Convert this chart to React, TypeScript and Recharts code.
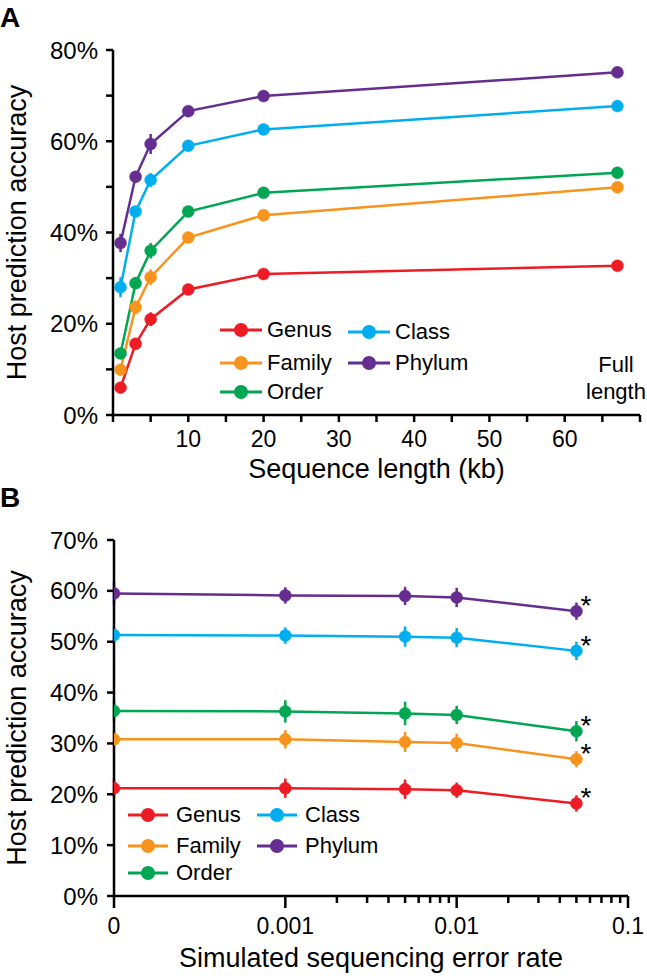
import React from "react";
import { LineChart, Line, XAxis, YAxis, ErrorBar, Legend, LabelList } from "recharts";

const FONT = '"Liberation Sans", Arial, Helvetica, sans-serif';

const ranks = ["Genus", "Family", "Order", "Class", "Phylum"];
const rankColors = ["#ED1C24", "#F7941D", "#00A651", "#00AEEF", "#662D91"];

// Panel A: accuracy (%) vs sequence length (kb); 67 = full length
const lengths = [1, 3, 5, 10, 20, 67];
const genusA = [6.0, 15.6, 21.0, 27.5, 30.9, 32.7];
const familyA = [9.9, 23.6, 30.2, 38.9, 43.8, 49.9];
const orderA = [13.5, 28.9, 36.0, 44.6, 48.7, 53.1];
const classA = [28.0, 44.6, 51.5, 59.0, 62.6, 67.7];
const phylumA = [37.7, 52.2, 59.4, 66.6, 69.9, 75.1];
const genusAErr = [1.0, 1.2, 1.5, 0.6, 0.5, 0.4];
const familyAErr = [1.0, 1.5, 1.7, 0.7, 0.5, 0.4];
const orderAErr = [1.0, 1.3, 1.7, 0.7, 0.5, 0.4];
const classAErr = [2.2, 1.2, 1.5, 0.7, 0.5, 0.4];
const phylumAErr = [2.0, 1.2, 2.2, 0.7, 0.5, 0.4];

const lengthTicks = [0, 5, 10, 15, 20, 25, 30, 35, 40, 45, 50, 55, 60, 65, 70];
const lengthTickLabels = [10, 20, 30, 40, 50, 60];
const accTicksA = [0, 10, 20, 30, 40, 50, 60, 70, 80];
const accTickLabelsA = [0, 20, 40, 60, 80];

// Panel B: accuracy (%) vs simulated error rate
const errorRates = [0, 0.001, 0.005, 0.01, 0.05];
const genusB = [21.2, 21.2, 21.0, 20.8, 18.2];
const familyB = [30.8, 30.8, 30.3, 30.1, 26.9];
const orderB = [36.4, 36.3, 35.9, 35.6, 32.4];
const classB = [51.3, 51.2, 51.0, 50.8, 48.2];
const phylumB = [59.5, 59.1, 59.0, 58.7, 56.0];
const genusBErr = [1.9, 1.9, 1.9, 1.5, 1.6];
const familyBErr = [1.8, 1.8, 2.0, 1.8, 1.6];
const orderBErr = [2.1, 2.2, 2.3, 1.8, 2.0];
const classBErr = [1.7, 1.6, 2.0, 1.9, 1.8];
const phylumBErr = [2.3, 1.6, 1.8, 1.9, 1.7];

const LOG_FLOOR = 0.0001; // where "0" sits on the log axis
const rateTicks = [
  0.0001, 0.001, 0.002, 0.003, 0.004, 0.005, 0.006, 0.007, 0.008, 0.009,
  0.01, 0.02, 0.03, 0.04, 0.05, 0.06, 0.07, 0.08, 0.09, 0.1,
];
const rateMajor = [0.0001, 0.001, 0.01, 0.1];
const rateTickLabels = ["0", "0.001", "0.01", "0.1"];
const accTicksB = [0, 10, 20, 30, 40, 50, 60, 70];

const valuesA = [genusA, familyA, orderA, classA, phylumA];
const errsA = [genusAErr, familyAErr, orderAErr, classAErr, phylumAErr];
const valuesB = [genusB, familyB, orderB, classB, phylumB];
const errsB = [genusBErr, familyBErr, orderBErr, classBErr, phylumBErr];

const dataA = lengths.map((x, i) => {
  const row: any = { x };
  ranks.forEach((r, k) => {
    row[r] = valuesA[k][i];
    row[r + "_err"] = errsA[k][i];
  });
  return row;
});

const dataB = errorRates.map((rate, i) => {
  const row: any = { x: rate === 0 ? LOG_FLOOR : rate };
  ranks.forEach((r, k) => {
    row[r] = valuesB[k][i];
    row[r + "_err"] = errsB[k][i];
  });
  return row;
});

const axisStyle = { stroke: "#000", strokeWidth: 2.5 };

function RateTick(props: any) {
  const { x, y, payload } = props;
  const i = rateMajor.indexOf(payload.value);
  const major = i >= 0;
  return (
    <g>
      <line x1={x} x2={x} y1={y} y2={y + (major ? 12 : 7)} stroke="#000" strokeWidth={2.5} />
      {major && (
        <text x={x} y={y + 38} textAnchor="middle" fontSize={23} fontFamily={FONT} fill="#000">
          {rateTickLabels[i]}
        </text>
      )}
    </g>
  );
}

function Star(props: any) {
  const { index } = props;
  const x = props.x ?? props.viewBox?.x;
  const y = props.y ?? props.viewBox?.y;
  if (index !== errorRates.length - 1) return null;
  return (
    <text x={x + 4} y={y + 4} fontSize={28} fontFamily={FONT} fill="#000">
      *
    </text>
  );
}

type LegendPos = { left: number; top: number };

function RankLegend({ pos, lineLen, gap }: { pos: LegendPos[]; lineLen: number; gap: number }) {
  return (
    <div style={{ position: "relative", width: 320, height: 110 }}>
      {ranks.map((r, k) => (
        <div
          key={r}
          style={{
            position: "absolute",
            left: pos[k].left,
            top: pos[k].top,
            height: 30,
            display: "flex",
            alignItems: "center",
            fontFamily: FONT,
            fontSize: 22,
            color: "#000",
            whiteSpace: "nowrap",
          }}
        >
          <svg width={lineLen} height={16} style={{ display: "block" }}>
            <line x1={0} x2={lineLen} y1={8} y2={8} stroke={rankColors[k]} strokeWidth={3} />
            <circle cx={lineLen / 2} cy={8} r={7} fill={rankColors[k]} />
          </svg>
          <span style={{ marginLeft: gap }}>{r}</span>
        </div>
      ))}
    </div>
  );
}

const legendPosA: LegendPos[] = [
  { left: 0, top: 15 },
  { left: 0, top: 48 },
  { left: 0, top: 77 },
  { left: 128, top: 17 },
  { left: 128, top: 48 },
];

const legendPosB: LegendPos[] = [
  { left: 0, top: 15 },
  { left: 0, top: 46 },
  { left: 0, top: 73 },
  { left: 129, top: 15 },
  { left: 129, top: 46 },
];

const labelStyle = { fontSize: 27, fontFamily: FONT, fill: "#000" };

export default function App() {
  return (
    <div
      style={{
        position: "absolute",
        left: 0,
        top: 0,
        width: 647,
        height: 978,
        background: "#fff",
        fontFamily: FONT,
      }}
    >
      <div style={{ position: "absolute", left: 0, top: 0 }}>
        <LineChart width={647} height={490} data={dataA} margin={{ top: 50, right: 7, bottom: 35, left: 0 }}>
          <XAxis
            dataKey="x"
            type="number"
            domain={[0, 70]}
            ticks={lengthTicks}
            interval={0}
            tickFormatter={(v: number) => (lengthTickLabels.includes(v) ? String(v) : "")}
            height={40}
            tickSize={7}
            tickMargin={9}
            axisLine={axisStyle}
            tickLine={axisStyle}
            tick={{ fill: "#000", fontSize: 23, fontFamily: FONT }}
            label={{ value: "Sequence length (kb)", position: "bottom", offset: 4, style: labelStyle }}
          />
          <YAxis
            type="number"
            domain={[0, 80]}
            ticks={accTicksA}
            interval={0}
            tickFormatter={(v: number) => (accTickLabelsA.includes(v) ? `${v}%` : "")}
            width={113}
            tickSize={7}
            tickMargin={8}
            axisLine={axisStyle}
            tickLine={axisStyle}
            tick={{ fill: "#000", fontSize: 24, fontFamily: FONT }}
            label={{
              value: "Host prediction accuracy",
              angle: -90,
              position: "insideLeft",
              offset: 16,
              style: { ...labelStyle, textAnchor: "middle" },
            }}
          />
          {ranks.map((r, k) => (
            <Line
              key={r}
              type="linear"
              dataKey={r}
              stroke={rankColors[k]}
              strokeWidth={2.5}
              dot={{ r: 6, fill: rankColors[k], stroke: rankColors[k], strokeWidth: 0.5 }}
              activeDot={false}
              isAnimationActive={false}
            >
              <ErrorBar dataKey={r + "_err"} width={0} stroke={rankColors[k]} strokeWidth={2.5} direction="y" />
            </Line>
          ))}
          <Legend
            layout="vertical"
            align="center"
            verticalAlign="middle"
            wrapperStyle={{ left: 220, top: 300, width: 320, height: 110 }}
            content={() => <RankLegend pos={legendPosA} lineLen={42} gap={5} />}
          />
        </LineChart>
      </div>

      <div style={{ position: "absolute", left: 0, top: 480 }}>
        <LineChart width={647} height={498} data={dataB} margin={{ top: 60, right: 19, bottom: 32, left: 0 }}>
          <XAxis
            dataKey="x"
            type="number"
            scale="log"
            domain={[LOG_FLOOR, 0.1]}
            allowDataOverflow
            ticks={rateTicks}
            interval={0}
            height={50}
            tickSize={0}
            tickMargin={0}
            axisLine={axisStyle}
            tickLine={false}
            tick={<RateTick />}
            label={{ value: "Simulated sequencing error rate", position: "bottom", offset: 2, style: labelStyle }}
          />
          <YAxis
            type="number"
            domain={[0, 70]}
            ticks={accTicksB}
            interval={0}
            tickFormatter={(v: number) => `${v}%`}
            width={114}
            tickSize={7}
            tickMargin={9}
            axisLine={axisStyle}
            tickLine={axisStyle}
            tick={{ fill: "#000", fontSize: 24, fontFamily: FONT }}
            label={{
              value: "Host prediction accuracy",
              angle: -90,
              position: "insideLeft",
              offset: 16,
              style: { ...labelStyle, textAnchor: "middle" },
            }}
          />
          {ranks.map((r, k) => (
            <Line
              key={r}
              type="linear"
              dataKey={r}
              stroke={rankColors[k]}
              strokeWidth={2.5}
              dot={{ r: 6, fill: rankColors[k], stroke: rankColors[k], strokeWidth: 0.5 }}
              activeDot={false}
              isAnimationActive={false}
            >
              <ErrorBar dataKey={r + "_err"} width={0} stroke={rankColors[k]} strokeWidth={2.5} direction="y" />
              <LabelList dataKey={r} content={<Star />} />
            </Line>
          ))}
          <Legend
            layout="vertical"
            align="center"
            verticalAlign="middle"
            wrapperStyle={{ left: 128, top: 305, width: 320, height: 110 }}
            content={() => <RankLegend pos={legendPosB} lineLen={40} gap={8} />}
          />
        </LineChart>
      </div>

      <div
        style={{
          position: "absolute",
          left: 0,
          top: 4,
          fontSize: 28,
          fontWeight: "bold",
          lineHeight: 1,
        }}
      >
        A
      </div>
      <div
        style={{
          position: "absolute",
          left: 0,
          top: 484,
          fontSize: 28,
          fontWeight: "bold",
          lineHeight: 1,
        }}
      >
        B
      </div>
      <div
        style={{
          position: "absolute",
          left: 576,
          top: 351,
          width: 80,
          textAlign: "center",
          fontSize: 22,
          lineHeight: "27px",
        }}
      >
        Full
        <br />
        length
      </div>
    </div>
  );
}
